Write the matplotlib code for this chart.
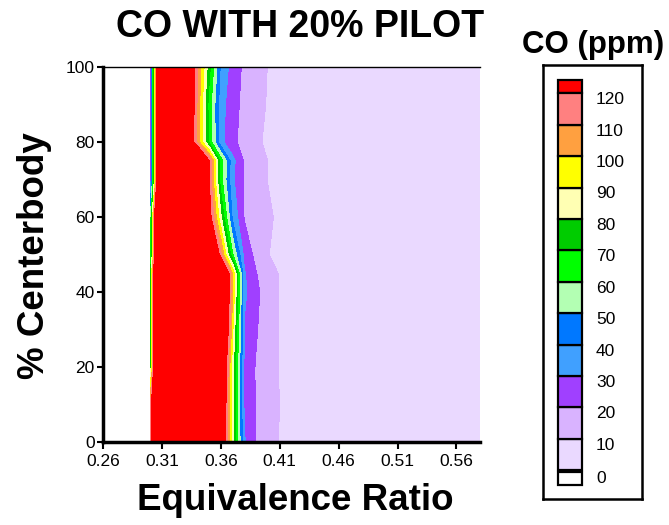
import numpy as np
import matplotlib as mpl
mpl.use('Agg')
import matplotlib.pyplot as plt
from matplotlib.colors import ListedColormap, BoundaryNorm
from matplotlib.patches import Rectangle

plt.rcParams['font.family'] = ['Liberation Sans', 'DejaVu Sans']

# equivalence ratio columns and % centerbody rows of the CO map
phi = [0.30, 0.31, 0.32, 0.33, 0.34, 0.35, 0.36, 0.37, 0.38, 0.39,
       0.40, 0.41, 0.42, 0.46, 0.50, 0.54, 0.58]
centerbody = [0, 10, 20, 30, 40, 45, 50, 60, 70, 75, 80, 90, 100]

# CO (ppm), one list per centerbody row, bottom to top
co_0 = [105, 250, 250, 250, 250, 214, 149, 83, 31, 19.5, 13.4, 9.6, 8.8, 6, 5, 5, 4]
co_10 = [105, 250, 250, 250, 250, 214, 149, 83, 28, 19.2, 14.1, 9.9, 9.0, 6, 5, 5, 4]
co_20 = [65, 250, 250, 250, 250, 219, 152, 84, 28, 19.1, 13.2, 9.6, 8.8, 6, 5, 5, 4]
co_30 = [65, 250, 250, 250, 250, 249, 170, 92, 29, 21, 13.4, 9.6, 8.8, 6, 5, 5, 4]
co_40 = [65, 250, 250, 250, 250, 237, 169, 101, 32, 22.5, 14.3, 9.6, 8.8, 6, 5, 5, 4]
co_45 = [65, 250, 250, 250, 250, 232, 166, 100, 31, 20.5, 12.5, 9.6, 8.8, 6, 5, 5, 4]
co_50 = [45, 250, 250, 250, 218, 166, 113, 61, 26.7, 17, 10.1, 9.2, 8.4, 6, 5, 5, 4]
co_60 = [45, 250, 250, 220, 174, 128, 82, 38, 19.3, 14.9, 10.6, 9.3, 8.5, 6, 5, 5, 4]
co_70 = [15, 200, 250, 230, 178, 121, 64, 32, 18.7, 14, 9.9, 9.1, 8.3, 6, 5, 5, 4]
co_75 = [15, 200, 250, 225, 175, 121, 66, 33, 19, 13.8, 9.9, 9.1, 8.3, 6, 5, 5, 4]
co_80 = [15, 200, 250, 147, 107, 68, 33, 22.5, 16.1, 10.7, 9.3, 8.5, 7.7, 6, 5, 5, 4]
co_90 = [15, 200, 250, 152, 109, 66, 34, 23.8, 17.1, 12.1, 9.5, 8.8, 8.0, 6, 5, 5, 4]
co_100 = [15, 200, 250, 151, 112, 74, 38, 25.6, 18, 13.3, 9.8, 9.0, 8.2, 6, 5, 5, 4]

levels = [0, 10, 20, 30, 40, 50, 60, 70, 80, 90, 100, 110, 120]
band_colors = ['#ead9ff', '#d9b3ff', '#a040ff', '#40a0ff', '#0078ff', '#b3ffb3',
               '#00ff00', '#00cc00', '#ffffb3', '#ffff00', '#ffa040', '#ff8080']
under_color = 'white'
over_color = '#ff0000'

xticks = [0.26, 0.31, 0.36, 0.41, 0.46, 0.51, 0.56]
yticks = [0, 20, 40, 60, 80, 100]

co = np.array([co_0, co_10, co_20, co_30, co_40, co_45, co_50,
               co_60, co_70, co_75, co_80, co_90, co_100])

cmap = ListedColormap(band_colors)
cmap.set_under(under_color)
cmap.set_over(over_color)
norm = BoundaryNorm(levels, cmap.N)

fig = plt.figure(figsize=(6.69, 5.25), dpi=100)
ax = fig.add_axes([103/669, 83/525, 377/669, 375/525])
ax.contourf(phi, centerbody, co, levels=levels, cmap=cmap, norm=norm,
            extend='both')
ax.set_xlim(0.26, 0.58)
ax.set_ylim(0, 100)
ax.set_xticks(xticks)
ax.set_xticklabels(['%.2f' % t for t in xticks])
ax.set_yticks(yticks)
ax.tick_params(labelsize=12.5, direction='out', length=5, width=1.5, pad=4)
ax.tick_params(axis='y', length=4, pad=2)
for side in ['left', 'bottom']:
    ax.spines[side].set_linewidth(2.5)
ax.spines['top'].set_linewidth(1.0)
ax.spines['right'].set_visible(False)

fig.text(300/669, 1 - 27/525, 'CO WITH 20% PILOT', fontsize=27,
         fontweight='bold', ha='center', va='center')
fig.text(295/669, 1 - 500/525, 'Equivalence Ratio', fontsize=26.5,
         fontweight='bold', ha='center', va='center')
fig.text(35/669, 1 - 256/525, '% Centerbody', fontsize=26.5,
         fontweight='bold', ha='center', va='center', rotation=90)
fig.text(593/669, 1 - 45/525, 'CO (ppm)', fontsize=22.5,
         fontweight='bold', ha='center', va='center')

# legend panel, laid out in pixel units
lg = fig.add_axes([543/669, 26/525, 99/669, 434/525])
lg.set_xlim(0, 99)
lg.set_ylim(434, 0)
lg.set_xticks([])
lg.set_yticks([])
for s in lg.spines.values():
    s.set_linewidth(1.8)

step = 31.4
top = 28.3
lg.add_patch(Rectangle((15, 15), 24, top - 15, facecolor=over_color,
                       edgecolor='black', linewidth=1.6))
box_colors = [under_color] + band_colors
for i, lev in enumerate(levels):
    if lev == levels[0]:
        y0, h = 406.7, 13.3
    else:
        y0, h = top + (len(levels) - 1 - i) * step, step
    lg.add_patch(Rectangle((15, y0), 24, h, facecolor=box_colors[i],
                           edgecolor='black', linewidth=1.6))
    lg.text(53, y0 + 6.5, str(lev), fontsize=12.5, ha='left', va='center')

fig.savefig('out.png', dpi=100)
